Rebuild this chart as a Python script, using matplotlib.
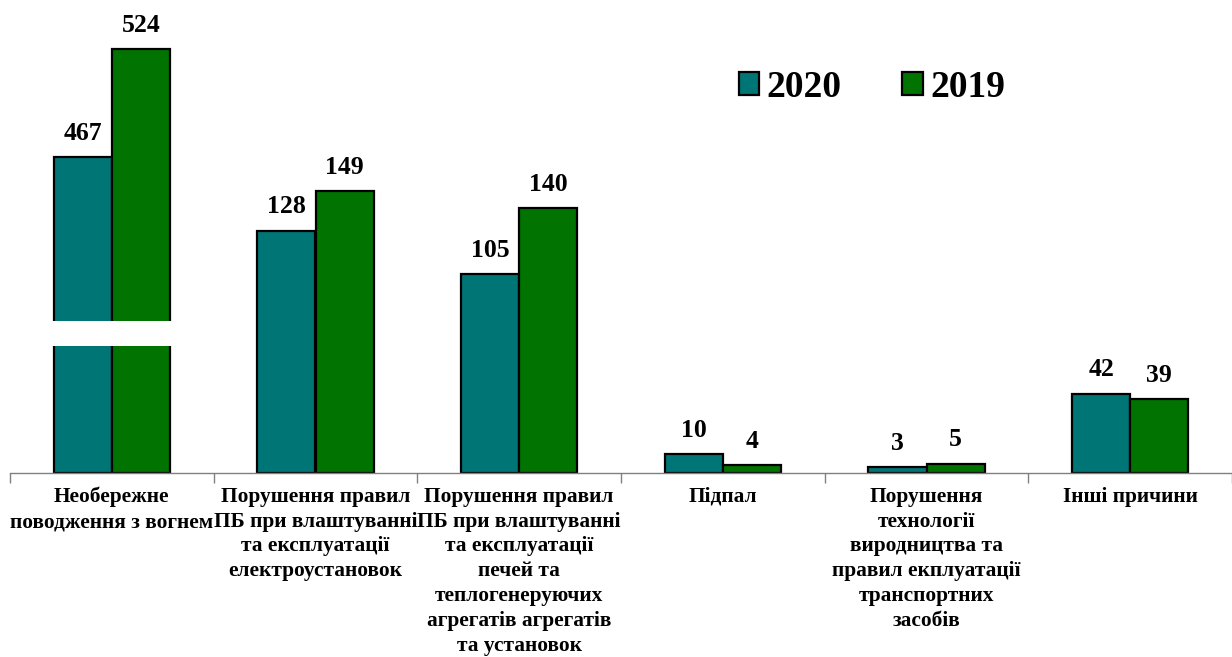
import matplotlib
matplotlib.use("Agg")
import matplotlib.pyplot as plt
from matplotlib.patches import Rectangle
import numpy as np

plt.rcParams['font.family'] = ['Liberation Serif', 'DejaVu Serif']
plt.rcParams['font.weight'] = 'bold'

categories = [
    "Необережне\nповодження з вогнем",
    "Порушення правил\nПБ при влаштуванні\nта експлуатації\nелектроустановок",
    "Порушення правил\nПБ при влаштуванні\nта експлуатації\nпечей та\nтеплогенеруючих\nагрегатів агрегатів\nта установок",
    "Підпал",
    "Порушення\nтехнології\nвиродництва та\nправил екплуатації\nтранспортних\nзасобів",
    "Інші причини",
]
values_2020 = [467, 128, 105, 10, 3, 42]
values_2019 = [524, 149, 140, 4, 5, 39]
series_names = ["2020", "2019"]

# the first group is drawn on a broken axis
break_offset = 300
break_group = 0

color_2020 = '#007575'
color_2019 = '#007300'

fig = plt.figure(figsize=(12.32, 6.57), dpi=100)
ax = fig.add_axes([10 / 1232, (657 - 473) / 657, 1222 / 1232, 473 / 657])

x = np.arange(len(categories))
w = 0.285


def shown(vals):
    out = np.array(vals, dtype=float)
    out[break_group] -= break_offset
    return out


h20 = shown(values_2020)
h19 = shown(values_2019)
ax.bar(x - w / 2, h20, w, color=color_2020, edgecolor='black', linewidth=1.6,
       label=series_names[0], zorder=2)
ax.bar(x + w / 2, h19, w, color=color_2019, edgecolor='black', linewidth=1.6,
       label=series_names[1], zorder=2)

# white gap marking the break
ax.add_patch(Rectangle((break_group - w - 0.03, 67.2), 2 * w + 0.06, 13.2,
                       facecolor='white', edgecolor='none', zorder=3))

for xi, h, v in zip(x - w / 2, h20, values_2020):
    ax.annotate(str(v), (xi, h), xytext=(0, 9), textcoords='offset points',
                ha='center', va='bottom', fontsize=18.5, fontweight='bold')
for xi, h, v in zip(x + w / 2, h19, values_2019):
    ax.annotate(str(v), (xi, h), xytext=(0, 9), textcoords='offset points',
                ha='center', va='bottom', fontsize=18.5, fontweight='bold')

ax.set_xlim(-0.5, len(categories) - 0.5)
ax.set_ylim(0, 250)

for s in ['top', 'right', 'left']:
    ax.spines[s].set_visible(False)
ax.spines['bottom'].set_color('#808080')
ax.spines['bottom'].set_linewidth(1.0)
ax.set_yticks([])
ax.set_xticks(np.arange(-0.5, len(categories), 1.0))
ax.set_xticklabels([])
ax.tick_params(axis='x', length=7, color='#808080', width=1.0, direction='out')

for xi, c in zip(x, categories):
    ax.annotate(c, (xi, 0), xytext=(0, -10), textcoords='offset points',
                ha='center', va='top', fontsize=15.4, fontweight='bold',
                linespacing=1.32, annotation_clip=False)

leg = ax.legend(loc='upper left', bbox_to_anchor=(695 / 1222, 1 - 36 / 473),
                ncol=2, frameon=False, handlelength=0.55,
                handleheight=0.55, handletextpad=0.2, columnspacing=1.6,
                prop={'weight': 'bold', 'size': 27})

fig.savefig('out.png', dpi=100)
